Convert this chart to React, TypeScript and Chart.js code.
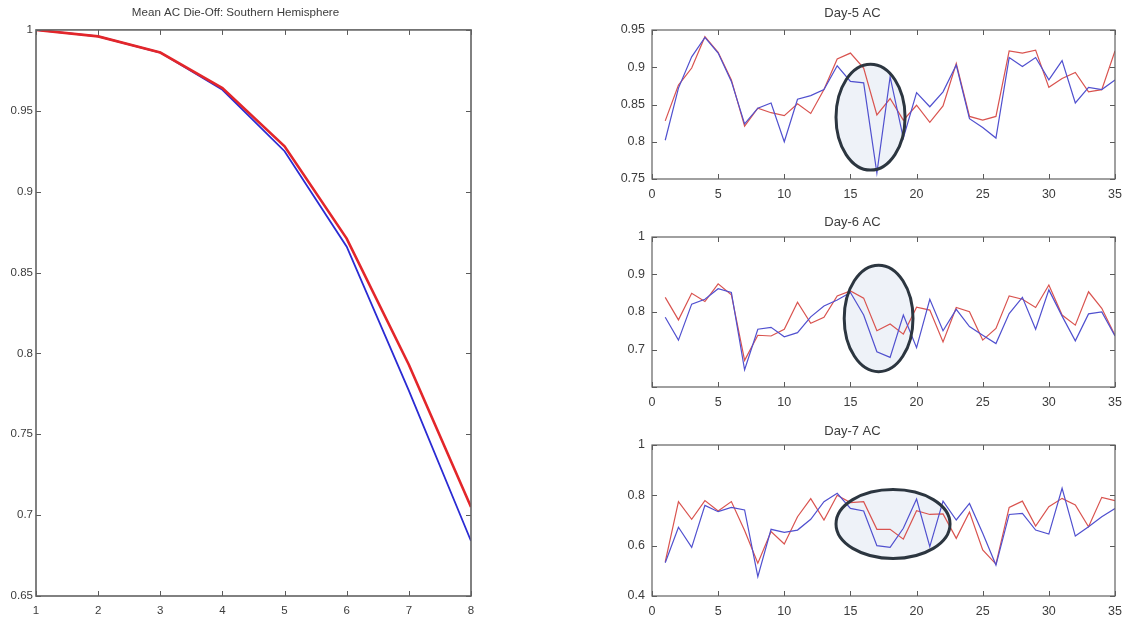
import React, { useEffect, useRef } from "react";
import { Chart, registerables } from "chart.js";

Chart.register(...registerables);

const FONT = "'Liberation Sans', Arial, Helvetica, sans-serif";
const TEXT = "#3c3c3c";

// ---------- Left panel: Mean AC die-off ----------
const dieOffLeadDays = [1, 2, 3, 4, 5, 6, 7, 8];
const dieOffBlue = [1.0, 0.996, 0.986, 0.963, 0.925, 0.866, 0.777, 0.684];
const dieOffRed = [1.0, 0.996, 0.986, 0.964, 0.928, 0.871, 0.793, 0.705];

// ---------- Right panels: AC by case ----------
const caseNumbers = [
  1, 2, 3, 4, 5, 6, 7, 8, 9, 10, 11, 12, 13, 14, 15, 16, 17, 18,
  19, 20, 21, 22, 23, 24, 25, 26, 27, 28, 29, 30, 31, 32, 33, 34, 35,
];

const day5Blue = [
  0.802, 0.872, 0.914, 0.94, 0.919, 0.881, 0.824, 0.845, 0.852, 0.8,
  0.857, 0.862, 0.87, 0.902, 0.881, 0.879, 0.758, 0.887, 0.805, 0.866,
  0.847, 0.867, 0.903, 0.831, 0.819, 0.805, 0.913, 0.901, 0.913, 0.883,
  0.909, 0.852, 0.873, 0.87, 0.883,
];
const day5Red = [
  0.828, 0.876, 0.899, 0.941, 0.92, 0.883, 0.821, 0.845, 0.839, 0.835,
  0.851, 0.838, 0.87, 0.911, 0.919, 0.899, 0.836, 0.858, 0.829, 0.849,
  0.826, 0.848, 0.905, 0.834, 0.829, 0.834, 0.922, 0.919, 0.923, 0.873,
  0.885, 0.893, 0.867, 0.87, 0.922,
];

const day6Blue = [
  0.786, 0.725, 0.821, 0.834, 0.862, 0.852, 0.646, 0.754, 0.759, 0.734,
  0.745, 0.787, 0.816, 0.832, 0.852, 0.792, 0.694, 0.679, 0.792, 0.705,
  0.834, 0.75, 0.807, 0.761, 0.738, 0.716, 0.796, 0.839, 0.754, 0.859,
  0.789, 0.723, 0.795, 0.8, 0.736,
];
const day6Red = [
  0.839, 0.779, 0.85, 0.828, 0.875, 0.846, 0.671, 0.738, 0.736, 0.754,
  0.826, 0.77, 0.786, 0.843, 0.856, 0.837, 0.75, 0.768, 0.741, 0.813,
  0.805, 0.72, 0.812, 0.801, 0.725, 0.756, 0.843, 0.834, 0.812, 0.872,
  0.792, 0.765, 0.854, 0.81, 0.738,
];

const day7Blue = [
  0.532, 0.673, 0.593, 0.76, 0.735, 0.752, 0.742, 0.477, 0.665, 0.653,
  0.662, 0.705, 0.775, 0.808, 0.748, 0.738, 0.6, 0.593, 0.669, 0.785,
  0.596, 0.777, 0.702, 0.768, 0.649, 0.523, 0.724, 0.728, 0.662, 0.646,
  0.828, 0.638, 0.675, 0.715, 0.748,
];
const day7Red = [
  0.536, 0.775, 0.705, 0.779, 0.738, 0.775, 0.66, 0.53, 0.656, 0.607,
  0.715, 0.787, 0.702, 0.8, 0.771, 0.775, 0.665, 0.665, 0.626, 0.739,
  0.724, 0.726, 0.629, 0.734, 0.583, 0.527, 0.752, 0.777, 0.678, 0.755,
  0.788, 0.762, 0.675, 0.792, 0.779,
];

// Highlight ellipses: [centre case, centre AC, half-width (cases), half-height (AC)]
const day5Highlight = [16.52, 0.833, 2.61, 0.071];
const day6Highlight = [17.13, 0.783, 2.6, 0.142];
const day7Highlight = [18.22, 0.686, 4.31, 0.137];

// ---------- plugins ----------
function ellipseGeom(chart: any, e: number[]) {
  const { scales } = chart;
  const cx = scales.x.getPixelForValue(e[0]);
  const cy = scales.y.getPixelForValue(e[1]);
  const rx = Math.abs(scales.x.getPixelForValue(e[0] + e[2]) - cx);
  const ry = Math.abs(scales.y.getPixelForValue(e[1] + e[3]) - cy);
  return { cx, cy, rx, ry };
}

const ellipsePlugin = {
  id: "highlight",
  beforeDatasetsDraw(chart: any, _a: any, opts: any) {
    const e = opts && opts.ellipse;
    if (!e) return;
    const { ctx } = chart;
    const g = ellipseGeom(chart, e);
    ctx.save();
    ctx.beginPath();
    ctx.ellipse(g.cx, g.cy, g.rx, g.ry, 0, 0, Math.PI * 2);
    ctx.fillStyle = "#eef2f8";
    ctx.fill();
    ctx.restore();
  },
  afterDatasetsDraw(chart: any, _a: any, opts: any) {
    const e = opts && opts.ellipse;
    if (!e) return;
    const { ctx } = chart;
    const g = ellipseGeom(chart, e);
    ctx.save();
    ctx.beginPath();
    ctx.ellipse(g.cx, g.cy, g.rx, g.ry, 0, 0, Math.PI * 2);
    ctx.strokeStyle = "#2c3640";
    ctx.lineWidth = 3;
    ctx.stroke();
    ctx.restore();
  },
};

const framePlugin = {
  id: "frame",
  afterDatasetsDraw(chart: any, _a: any, opts: any) {
    const { ctx, chartArea: a, scales } = chart;
    const tl = 5;
    ctx.save();
    ctx.strokeStyle = "#5a5a5a";
    ctx.lineWidth = 1;
    ctx.beginPath();
    scales.x.ticks.forEach((t: any) => {
      const px = Math.round(scales.x.getPixelForValue(t.value)) + 0.5;
      ctx.moveTo(px, a.bottom);
      ctx.lineTo(px, a.bottom - tl);
      ctx.moveTo(px, a.top);
      ctx.lineTo(px, a.top + tl);
    });
    scales.y.ticks.forEach((t: any) => {
      const py = Math.round(scales.y.getPixelForValue(t.value)) + 0.5;
      ctx.moveTo(a.left, py);
      ctx.lineTo(a.left + tl, py);
      ctx.moveTo(a.right, py);
      ctx.lineTo(a.right - tl, py);
    });
    ctx.stroke();
    ctx.lineWidth = (opts && opts.width) || 1.2;
    ctx.strokeStyle = "#626262";
    ctx.strokeRect(a.left, a.top, a.right - a.left, a.bottom - a.top);
    ctx.restore();
  },
};

type Series = { data: number[]; color: string; width: number };

type PanelProps = {
  left: number;
  top: number;
  width: number;
  height: number;
  title: string;
  titleSize: number;
  tickSize: number;
  titlePad: [number, number];
  xs: number[];
  series: Series[];
  x: [number, number, number];
  y: [number, number, number];
  hideY?: number[];
  yAxisWidth: number;
  yLabelPad: number;
  xAxisHeight: number;
  padRight: number;
  xLabelGap: number;
  ellipse?: number[];
  frameWidth?: number;
};

const fmt = (v: number) => String(parseFloat(Number(v).toFixed(4)));

function Panel(p: PanelProps) {
  const ref = useRef<HTMLCanvasElement | null>(null);
  useEffect(() => {
    if (!ref.current) return;
    const tickFont = { family: FONT, size: p.tickSize };
    const chart = new Chart(ref.current, {
      type: "line",
      data: {
        datasets: p.series.map((s, i) => ({
          data: p.xs.map((xv, j) => ({ x: xv, y: s.data[j] })),
          borderColor: s.color,
          backgroundColor: s.color,
          borderWidth: s.width,
          pointRadius: 0,
          tension: 0,
          fill: false,
          order: p.series.length - 1 - i,
        })),
      },
      options: {
        responsive: false,
        animation: false,
        events: [],
        layout: { padding: { left: 0, right: p.padRight, top: 0, bottom: 0 } },
        plugins: {
          legend: { display: false },
          tooltip: { enabled: false },
          title: {
            display: true,
            text: p.title,
            color: TEXT,
            font: { family: FONT, size: p.titleSize, weight: "normal" },
            padding: { top: p.titlePad[0], bottom: p.titlePad[1] },
          },
          highlight: { ellipse: p.ellipse || null },
          frame: { width: p.frameWidth || 1.2 },
        } as any,
        scales: {
          x: {
            type: "linear",
            min: p.x[0],
            max: p.x[1],
            ticks: {
              stepSize: p.x[2],
              color: TEXT,
              font: tickFont,
              padding: 0,
              maxRotation: 0,
              autoSkip: false,
              callback: (v: any) => fmt(v),
            },
            // invisible grid; tickLength only offsets the labels below the axis
            grid: { display: false, drawTicks: true, tickLength: p.xLabelGap },
            border: { display: false },
            afterFit: (s: any) => {
              s.height = p.xAxisHeight;
            },
          },
          y: {
            type: "linear",
            min: p.y[0],
            max: p.y[1],
            ticks: {
              stepSize: p.y[2],
              color: TEXT,
              font: tickFont,
              padding: p.yLabelPad,
              autoSkip: false,
              callback: (v: any) => {
                if (p.hideY && p.hideY.some((h) => Math.abs(h - v) < 1e-6)) return "";
                return fmt(v);
              },
            },
            grid: { display: false, drawTicks: false },
            border: { display: false },
            afterFit: (s: any) => {
              s.width = p.yAxisWidth;
            },
          },
        },
      } as any,
      plugins: [ellipsePlugin, framePlugin],
    });
    return () => chart.destroy();
  }, []);
  return (
    <div
      style={{
        position: "absolute",
        left: p.left,
        top: p.top,
        width: p.width,
        height: p.height,
      }}
    >
      <canvas
        ref={ref}
        width={p.width}
        height={p.height}
        style={{ display: "block", width: p.width, height: p.height }}
      />
    </div>
  );
}

const RED_L = "#e3262a";
const BLUE_L = "#2b2bd3";
const RED_R = "#d9534f";
const BLUE_R = "#5050cf";

export default function App() {
  return (
    <div
      style={{
        position: "absolute",
        left: 0,
        top: 0,
        width: 1124,
        height: 617,
        background: "#ffffff",
        overflow: "hidden",
      }}
    >
      <Panel
        left={0}
        top={0}
        width={490}
        height={617}
        title="Mean AC Die-Off: Southern Hemisphere"
        titleSize={11.6}
        tickSize={11.5}
        titlePad={[6, 10]}
        xs={dieOffLeadDays}
        series={[
          { data: dieOffBlue, color: BLUE_L, width: 1.8 },
          { data: dieOffRed, color: RED_L, width: 2.6 },
        ]}
        x={[1, 8, 1]}
        y={[0.65, 1, 0.05]}
        yAxisWidth={36}
        yLabelPad={3}
        xAxisHeight={21}
        padRight={19}
        xLabelGap={7.5}
        frameWidth={1.6}
      />
      <Panel
        left={590}
        top={0}
        width={534}
        height={205}
        title="Day-5 AC"
        titleSize={13}
        tickSize={12.5}
        titlePad={[5.5, 8.9]}
        xs={caseNumbers}
        series={[
          { data: day5Red, color: RED_R, width: 1.2 },
          { data: day5Blue, color: BLUE_R, width: 1.2 },
        ]}
        x={[0, 35, 5]}
        y={[0.75, 0.95, 0.05]}
        yAxisWidth={62}
        yLabelPad={7}
        xAxisHeight={26}
        padRight={9}
        xLabelGap={8.5}
        ellipse={day5Highlight}
      />
      <Panel
        left={590}
        top={207}
        width={534}
        height={205}
        title="Day-6 AC"
        titleSize={13}
        tickSize={12.5}
        titlePad={[7.7, 6.7]}
        xs={caseNumbers}
        series={[
          { data: day6Red, color: RED_R, width: 1.2 },
          { data: day6Blue, color: BLUE_R, width: 1.2 },
        ]}
        x={[0, 35, 5]}
        y={[0.6, 1, 0.1]}
        hideY={[0.6]}
        yAxisWidth={62}
        yLabelPad={7}
        xAxisHeight={25}
        padRight={9}
        xLabelGap={8}
        ellipse={day6Highlight}
      />
      <Panel
        left={590}
        top={415}
        width={534}
        height={202}
        title="Day-7 AC"
        titleSize={13}
        tickSize={12.5}
        titlePad={[9, 5.4]}
        xs={caseNumbers}
        series={[
          { data: day7Red, color: RED_R, width: 1.2 },
          { data: day7Blue, color: BLUE_R, width: 1.2 },
        ]}
        x={[0, 35, 5]}
        y={[0.4, 1, 0.2]}
        yAxisWidth={62}
        yLabelPad={7}
        xAxisHeight={21}
        padRight={9}
        xLabelGap={8.5}
        ellipse={day7Highlight}
      />
    </div>
  );
}
